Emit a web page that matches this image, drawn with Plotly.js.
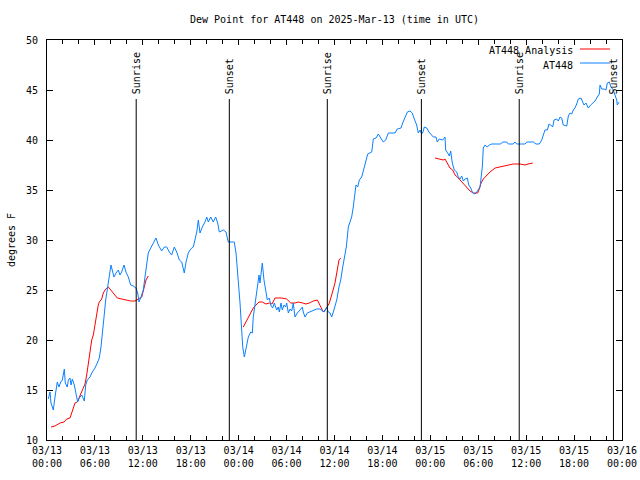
<!DOCTYPE html>
<html>
<head>
<meta charset="utf-8">
<script src="https://cdn.plot.ly/plotly-3.0.1.min.js"></script>
<style>html,body{margin:0;padding:0;background:#fff;}#chart{width:640px;height:480px;}</style>
</head>
<body>
<div id="chart"></div>
<script>
// ---- data (hours since 2025-03-13 00:00 UTC) ----
const stationHours = [0.16,0.38,0.50,0.79,1.00,1.29,1.50,1.72,1.92,2.04,2.17,2.29,2.54,2.67,2.88,3.01,3.17,3.42,3.63,3.84,4.04,4.35,4.67,4.85,5.05,5.38,5.67,6.01,6.30,6.55,6.76,6.97,7.14,7.35,7.60,7.89,8.01,8.23,8.39,8.64,8.93,9.14,9.35,9.64,9.89,10.18,10.48,10.81,11.14,11.36,11.52,11.77,12.06,12.27,12.48,12.68,12.99,13.31,13.65,13.94,14.36,14.69,14.99,15.31,15.61,15.94,16.24,16.57,16.87,17.19,17.41,17.69,17.99,18.32,18.53,18.75,18.95,19.16,19.45,19.78,20.00,20.20,20.50,20.82,21.12,21.37,21.58,22.08,22.41,22.70,23.04,23.45,23.67,23.92,24.17,24.38,24.51,24.71,24.92,25.21,25.51,25.71,25.83,26.13,26.33,26.55,26.67,26.96,27.17,27.39,27.59,27.84,28.01,28.26,28.46,28.76,28.96,29.09,29.30,29.46,29.68,29.89,30.01,30.22,30.43,30.64,30.84,31.05,31.34,31.68,31.97,32.09,32.31,32.59,32.93,33.35,33.77,34.18,34.52,34.72,35.02,35.22,35.44,35.65,35.85,36.06,36.28,36.56,36.78,37.03,37.23,37.48,37.73,37.94,38.15,38.35,38.48,38.69,38.91,39.11,39.41,39.61,39.91,40.16,40.66,40.86,41.20,41.49,41.79,42.11,42.41,42.74,43.08,43.58,43.86,44.33,44.54,44.83,45.12,45.45,45.74,45.99,46.29,46.49,46.71,46.92,47.08,47.25,47.55,47.83,48.05,48.37,48.71,48.87,49.12,49.55,49.84,49.92,50.17,50.38,50.55,50.75,51.00,51.30,51.50,51.72,51.93,52.13,52.34,52.63,52.81,53.06,53.31,53.59,53.81,54.01,54.22,54.35,54.51,54.63,54.85,55.13,55.38,55.68,56.22,56.81,57.06,57.56,57.77,58.39,58.60,58.82,59.85,60.07,60.90,61.23,61.65,61.95,62.15,62.36,62.65,62.86,63.07,63.32,63.49,63.82,64.02,64.24,64.45,64.65,65.08,65.28,65.49,65.70,65.90,66.11,66.33,66.53,66.87,67.08,67.24,67.49,67.78,68.08,68.33,68.62,68.91,69.16,69.25,69.46,69.75,70.00,70.16,70.41,70.62,70.91,71.12,71.34,71.41,71.63];
const stationDewPoint = [14.1,14.8,13.7,13.0,14.3,15.8,15.3,15.8,16.0,16.7,17.1,15.7,15.3,16.0,16.2,15.5,16.1,15.5,14.8,13.8,14.2,14.5,13.9,15.5,16.0,16.3,16.8,17.2,17.7,18.2,19.3,20.7,22.3,24.0,25.3,26.5,27.5,26.8,26.3,26.7,27.0,26.5,26.8,27.5,26.8,26.3,25.5,25.4,25.2,24.7,23.8,24.3,25.0,26.3,27.5,28.7,29.2,29.7,30.2,29.5,28.9,29.3,29.3,28.8,28.5,29.3,28.8,28.0,27.8,26.7,27.8,28.7,29.1,29.3,30.0,30.8,32.0,30.7,31.3,31.8,32.3,31.8,32.3,31.8,32.3,31.7,30.8,31.0,30.8,29.8,29.8,29.8,28.7,26.5,23.7,21.0,19.3,18.3,19.2,20.3,20.8,20.7,22.3,24.0,25.3,26.5,25.7,27.7,26.0,25.0,24.0,24.2,23.5,23.2,23.7,23.0,23.3,22.8,23.7,23.0,23.5,23.3,23.7,22.7,23.1,22.9,23.7,22.3,22.7,23.0,23.3,22.8,22.3,22.7,22.8,23.0,23.1,23.1,22.9,22.8,23.3,22.8,22.7,22.3,22.8,23.5,24.0,25.3,26.0,27.3,28.3,29.3,31.3,31.8,32.3,33.3,34.3,35.5,35.3,36.0,36.3,37.0,38.0,38.6,38.8,40.1,40.2,40.6,40.2,39.8,40.0,40.7,40.7,40.7,41.1,41.2,41.7,42.2,42.8,42.9,42.7,42.1,41.5,40.7,41.0,40.6,40.8,41.3,41.2,40.8,40.6,40.3,40.3,39.8,40.1,40.0,40.3,39.0,38.7,38.4,38.9,37.7,37.0,36.8,36.3,36.1,36.4,35.9,36.1,36.2,35.5,35.2,34.7,34.6,34.8,35.0,35.3,36.2,37.3,39.2,39.5,39.3,39.5,39.6,39.6,39.6,39.8,39.8,39.6,39.6,39.8,39.6,39.6,39.8,39.8,39.6,39.6,40.0,40.5,41.0,41.0,41.6,41.5,41.3,42.0,42.1,41.9,42.3,42.2,41.5,41.4,42.4,42.7,42.6,43.0,43.2,43.6,44.1,44.2,43.8,43.5,43.7,43.2,43.5,43.7,43.9,44.3,44.6,45.5,45.1,45.1,45.0,45.7,45.8,45.3,45.0,44.5,44.0,43.5,43.8];

const analysisHours = [0.50,1.00,1.63,2.13,2.47,2.88,3.09,3.29,3.51,3.79,4.13,4.42,4.76,4.97,5.17,5.38,5.60,5.80,6.01,6.22,6.42,6.55,6.85,7.05,7.35,7.68,7.98,8.39,8.80,9.35,10.06,10.48,11.02,11.43,11.86,12.15,12.40,12.68,
  null,
  24.58,25.01,25.51,25.83,26.17,26.55,26.96,27.42,27.84,28.17,28.55,29.39,30.01,30.52,31.05,31.47,32.02,32.43,32.85,33.35,33.85,34.18,34.60,35.02,35.35,35.65,35.85,36.06,36.28,36.56,36.78,
  null,
  48.59,49.21,49.62,49.84,50.05,50.25,50.46,50.80,51.09,51.38,51.72,52.00,52.34,52.63,52.97,53.38,53.93,54.13,54.35,54.63,55.06,55.47,56.10,56.72,57.56,58.39,59.23,59.85,60.23,60.82];
const analysisDewPoint = [11.3,11.4,11.7,11.8,12.1,12.2,12.7,13.2,13.7,13.8,14.5,15.0,15.6,16.5,17.8,19.0,20.0,20.5,21.7,22.5,23.5,23.8,24.1,24.7,25.1,25.3,25.0,24.5,24.2,24.1,24.0,23.9,23.9,24.1,24.3,25.2,26.0,26.4,
  null,
  21.3,22.0,22.8,23.2,23.5,23.8,23.8,23.6,23.7,23.6,24.2,24.2,24.1,23.7,23.7,23.8,23.7,23.6,23.7,23.9,24.0,23.4,22.8,23.2,23.7,24.5,25.0,25.7,26.7,28.0,28.2,
  null,
  38.2,38.1,38.0,38.1,37.8,37.5,37.2,37.0,36.5,36.3,36.0,35.7,35.4,35.1,34.9,34.7,34.7,35.1,35.7,36.1,36.5,36.8,37.2,37.3,37.5,37.6,37.6,37.5,37.6,37.7];

const sunEventHours = [11.17, 22.83, 35.10, 46.88, 59.13, 70.93];
const sunEventLabels = ["Sunrise", "Sunset", "Sunrise", "Sunset", "Sunrise", "Sunset"];

const seriesNames = ["AT448 Analysis", "AT448"];
const seriesColors = ["#ff0000", "#0a80ff"];

// ---- helpers ----
const T0 = Date.UTC(2025, 2, 13);
function toTime(h) {
  if (h === null) return null;
  return new Date(T0 + h * 3600000).toISOString().slice(0, 19).replace('T', ' ');
}

const FONT = "'DejaVu Sans Mono', 'Liberation Mono', monospace";

const traces = [
  {
    x: analysisHours.map(toTime), y: analysisDewPoint, type: 'scatter', mode: 'lines',
    name: seriesNames[0], line: {color: seriesColors[0], width: 1}, connectgaps: false,
    hoverinfo: 'x+y'
  },
  {
    x: stationHours.map(toTime), y: stationDewPoint, type: 'scatter', mode: 'lines',
    name: seriesNames[1], line: {color: seriesColors[1], width: 1},
    hoverinfo: 'x+y'
  }
];

const lineTop = 44.1;
const shapes = sunEventHours.map(h => ({
  type: 'line', xref: 'x', yref: 'y', x0: toTime(h), x1: toTime(h), y0: 10, y1: lineTop,
  line: {color: '#000', width: 1}
}));
const annotations = sunEventHours.map((h, i) => ({
  xref: 'x', yref: 'y', x: toTime(h), y: lineTop, text: sunEventLabels[i],
  textangle: -90, showarrow: false, xanchor: 'center', yanchor: 'bottom', yshift: 3,
  font: {family: FONT, size: 10, color: '#000'}
}));

// gnuplot-style legend: label on the left, line sample on the right
const legendRowsY = [0.9775, 0.9425];
seriesNames.forEach((name, i) => {
  annotations.push({
    xref: 'paper', yref: 'paper', x: 0.9175, y: legendRowsY[i], yshift: -2, text: name,
    showarrow: false, xanchor: 'right', yanchor: 'middle',
    font: {family: FONT, size: 10, color: '#000'}
  });
  shapes.push({
    type: 'line', xref: 'paper', yref: 'paper', x0: 0.927, x1: 0.979,
    y0: legendRowsY[i], y1: legendRowsY[i], line: {color: seriesColors[i], width: 1}
  });
});

const layout = {
  width: 640, height: 480,
  margin: {l: 47, r: 18, t: 40, b: 40, pad: 0},
  paper_bgcolor: '#fff', plot_bgcolor: '#fff',
  font: {family: FONT, size: 10, color: '#000'},
  showlegend: false,
  title: {text: 'Dew Point for AT448 on 2025-Mar-13 (time in UTC)', x: 0.5, xref: 'paper', xanchor: 'center',
          y: 0.96, yref: 'container', yanchor: 'middle', font: {family: FONT, size: 10, color: '#000'}},
  xaxis: {
    type: 'date', range: [toTime(0), toTime(72)],
    tickmode: 'linear', tick0: toTime(0), dtick: 6 * 3600000,
    tickformat: '%m/%d<br>%H:%M',
    ticks: 'inside', ticklen: 5, tickwidth: 1, tickcolor: '#000',
    minor: {dtick: 2 * 3600000, ticks: 'inside', ticklen: 4, tickcolor: '#000', showgrid: false},
    showline: true, linecolor: '#000', linewidth: 1, mirror: 'ticks',
    showgrid: false, zeroline: false, fixedrange: true,
    ticklabelstandoff: 1,
    tickfont: {family: FONT, size: 10, color: '#000'}
  },
  yaxis: {
    range: [10, 50], tickmode: 'linear', tick0: 10, dtick: 5,
    ticks: 'inside', ticklen: 6, tickwidth: 1, tickcolor: '#000',
    showline: true, linecolor: '#000', linewidth: 1, mirror: 'ticks',
    showgrid: false, zeroline: false, fixedrange: true,
    ticklabelstandoff: 6,
    tickfont: {family: FONT, size: 10, color: '#000'},
    title: {text: 'degrees F', standoff: 8, font: {family: FONT, size: 10, color: '#000'}}
  },
  shapes: shapes,
  annotations: annotations
};

Plotly.newPlot('chart', traces, layout, {displayModeBar: false, staticPlot: true});
</script>
</body>
</html>
